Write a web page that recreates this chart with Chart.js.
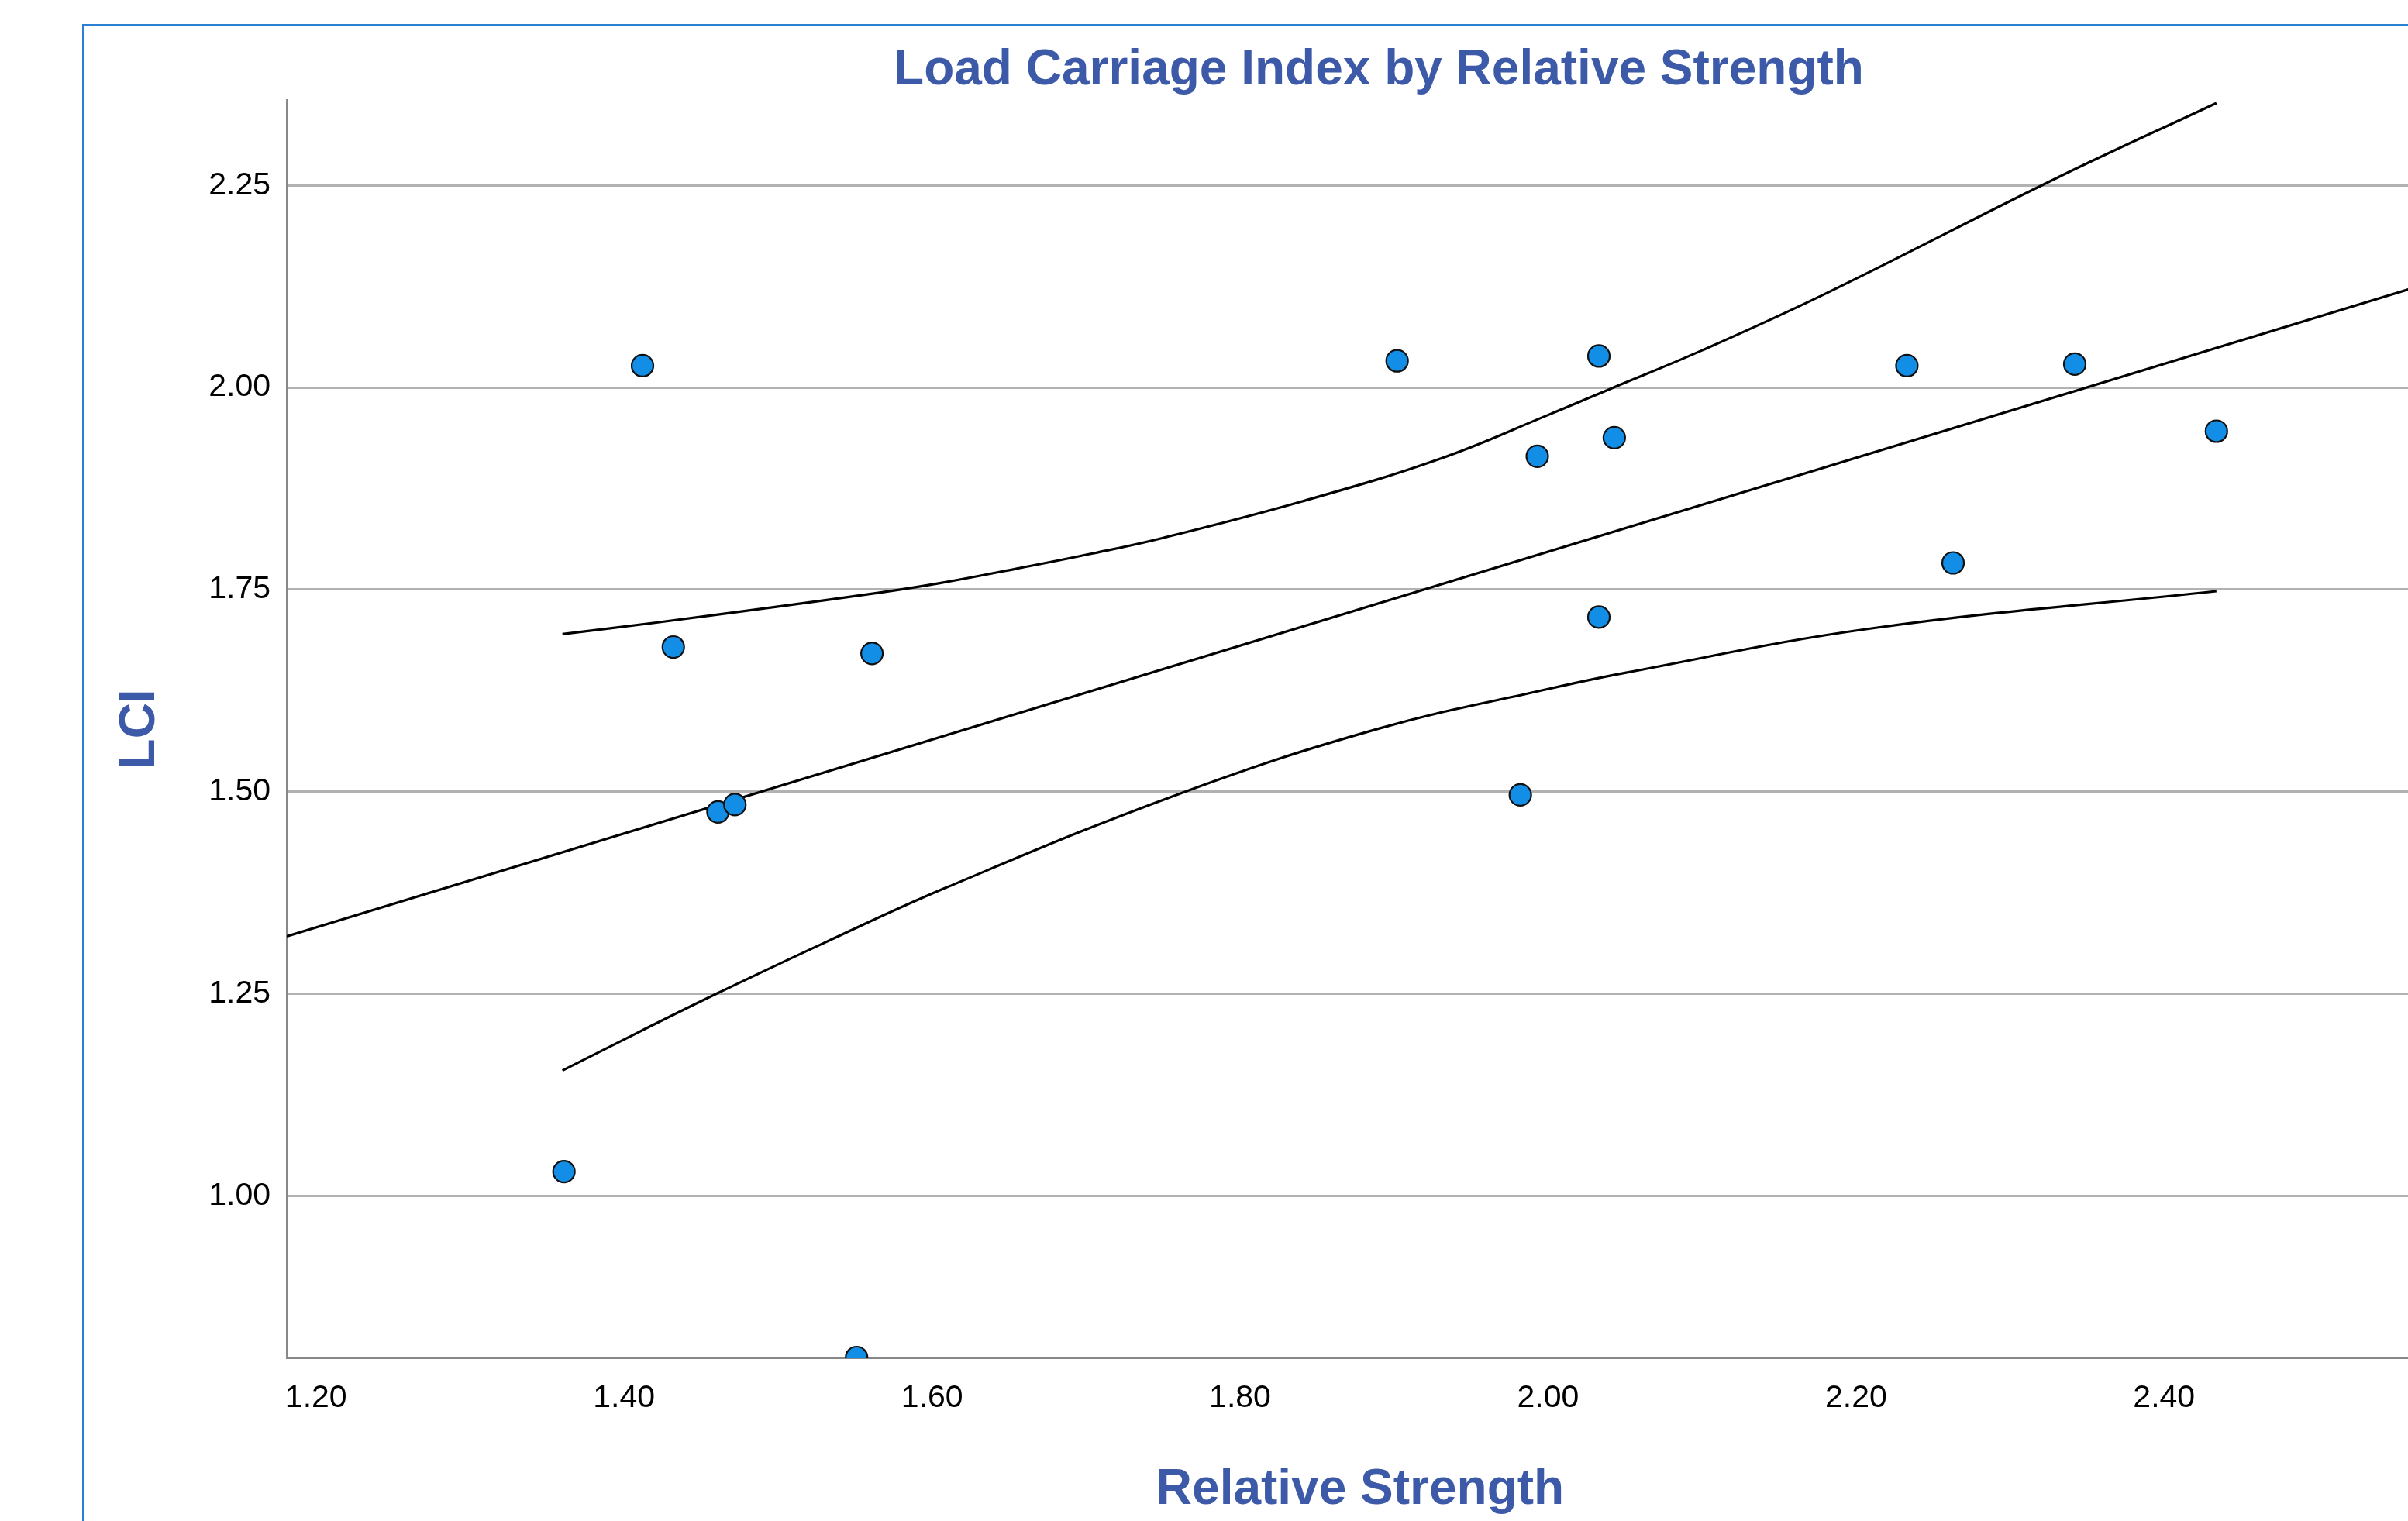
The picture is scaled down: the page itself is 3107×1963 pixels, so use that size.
<!DOCTYPE html>
<html>
<head>
<meta charset="utf-8">
<title>Load Carriage Index by Relative Strength</title>
<script src="https://cdn.jsdelivr.net/npm/chart.js@4.4.1/dist/chart.umd.min.js"></script>
<style>
    html, body { margin: 0; padding: 0; background: #fff; overflow: hidden; }
    body { width: 3107px; height: 1963px; position: relative; }
    /* SPSS style output frame, only its left and top edge are in view */
    .frame { position: absolute; left: 106px; top: 31px; width: 3342px; height: 1930px; border: 2px solid #2a80d2; }
    canvas { display: block; }
</style>
</head>
<body>
<div class="frame"><canvas id="lci-chart" width="3342" height="1930"></canvas></div>
<script>
// ---- data ----
const relStrength = [1.361, 1.412, 1.432, 1.461, 1.472, 1.551, 1.561, 1.902, 1.982, 1.993, 2.033, 2.033, 2.043, 2.233, 2.263, 2.342, 2.434];
const lci = [1.03, 2.027, 1.679, 1.475, 1.484, 0.80, 1.671, 2.033, 1.496, 1.915, 2.039, 1.716, 1.938, 2.027, 1.783, 2.029, 1.946];

// linear fit line, ends at the axis limits
const fitX = [1.181, 2.575];
const fitY = [1.321, 2.131];

// 95% mean confidence band
const upperX = [1.36, 1.42, 1.50, 1.565, 1.605, 1.655, 1.705, 1.75, 1.84, 1.93, 2.00, 2.04, 2.10, 2.18, 2.33, 2.434];
const upperY = [1.695, 1.709, 1.729, 1.746, 1.758, 1.776, 1.795, 1.814, 1.859, 1.912, 1.966, 1.998, 2.046, 2.116, 2.259, 2.352];
const lowerX = [1.36, 1.41, 1.46, 1.53, 1.61, 1.76, 1.89, 2.00, 2.05, 2.21, 2.434];
const lowerY = [1.155, 1.203, 1.250, 1.313, 1.382, 1.497, 1.578, 1.627, 1.647, 1.702, 1.748];

const xTicks = [1.2, 1.4, 1.6, 1.8, 2.0, 2.2, 2.4];
const yTicks = [1.0, 1.25, 1.5, 1.75, 2.0, 2.25];
const xRange = [1.181, 2.575];
const yRange = [0.80, 2.355];

const titleBlue = '#3d5aa9';
const toPoints = (xs, ys) => xs.map((x, i) => ({ x: x, y: ys[i] }));

Chart.defaults.font.family = '"Liberation Sans", Arial, sans-serif';
Chart.defaults.color = '#000';

const lineStyle = {
    showLine: true,
    borderColor: '#000',
    borderWidth: 3.2,
    pointRadius: 0,
    pointHoverRadius: 0,
    fill: false,
    clip: 0
};

new Chart(document.getElementById('lci-chart').getContext('2d'), {
    type: 'scatter',
    data: {
        datasets: [
            {
                label: 'LCI',
                data: toPoints(relStrength, lci),
                backgroundColor: '#138ee6',
                borderColor: '#111',
                borderWidth: 2.2,
                pointRadius: 14,
                clip: 0
            },
            Object.assign({ label: 'Linear fit', data: toPoints(fitX, fitY) }, lineStyle),
            Object.assign({ label: 'Upper 95% CI', data: toPoints(upperX, upperY), tension: 0.4 }, lineStyle),
            Object.assign({ label: 'Lower 95% CI', data: toPoints(lowerX, lowerY), tension: 0.4 }, lineStyle)
        ]
    },
    options: {
        responsive: false,
        animation: false,
        layout: { padding: 0 },
        plugins: {
            legend: { display: false },
            tooltip: { enabled: false },
            title: {
                display: true,
                text: 'Load Carriage Index by Relative Strength',
                color: titleBlue,
                font: { size: 64, weight: 'bold' },
                padding: { top: 20, bottom: 0 }
            }
        },
        scales: {
            x: {
                type: 'linear',
                position: 'bottom',
                min: xRange[0],
                max: xRange[1],
                afterBuildTicks: (scale) => { scale.ticks = xTicks.map((v) => ({ value: v })); },
                afterFit: (scale) => { scale.height = 211; },
                ticks: {
                    font: { size: 41 },
                    color: '#000',
                    padding: 28,
                    maxRotation: 0,
                    callback: (v) => Number(v).toFixed(2)
                },
                grid: { display: false, drawTicks: false },
                border: { color: '#888', width: 3 },
                title: {
                    display: true,
                    text: 'Relative Strength',
                    color: titleBlue,
                    font: { size: 64, weight: 'bold' },
                    padding: { top: 0, bottom: 1 }
                }
            },
            y: {
                type: 'linear',
                position: 'left',
                min: yRange[0],
                max: yRange[1],
                afterBuildTicks: (scale) => { scale.ticks = yTicks.map((v) => ({ value: v })); },
                afterFit: (scale) => { scale.width = 262; },
                ticks: {
                    font: { size: 41 },
                    color: '#000',
                    padding: 21,
                    callback: (v) => Number(v).toFixed(2)
                },
                grid: { color: '#b2b2b2', lineWidth: 3, drawTicks: false },
                border: { color: '#888', width: 3 },
                title: {
                    display: true,
                    text: 'LCI',
                    color: titleBlue,
                    font: { size: 64, weight: 'bold' },
                    padding: { top: 35, bottom: 0 }
                }
            },
            // empty right-hand space of the original output frame
            spacer: {
                type: 'linear',
                position: 'right',
                afterFit: (scale) => { scale.width = 310; },
                ticks: { display: false },
                grid: { display: false, drawTicks: false },
                border: { display: false }
            }
        }
    }
});
</script>
</body>
</html>
